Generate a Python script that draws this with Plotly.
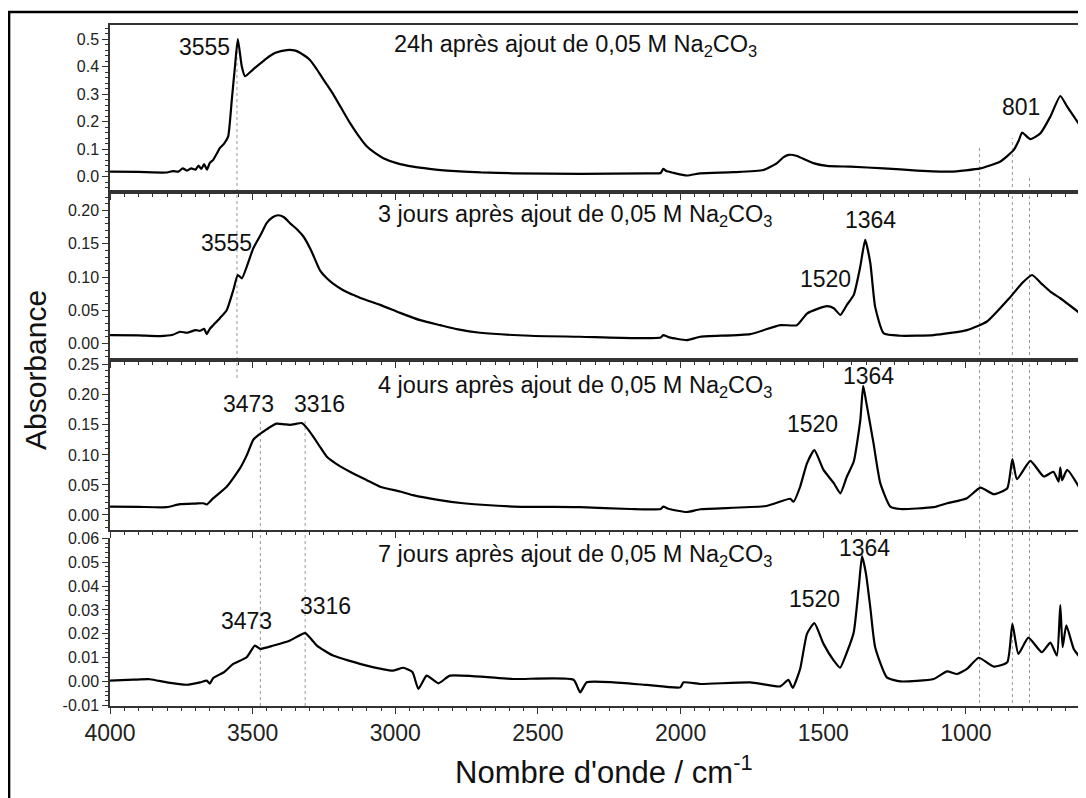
import plotly.graph_objects as go

# ---------------- data ----------------
wn_24h = [4000, 3900, 3850, 3800, 3780, 3760, 3745, 3730, 3715, 3700, 3690, 3680, 3670, 3660, 3650,
          3639, 3625, 3614, 3600, 3586, 3573, 3562, 3552, 3538, 3527, 3498, 3451, 3420, 3381, 3350,
          3334, 3300, 3275, 3250, 3218, 3190, 3159, 3130, 3100, 3070, 3042, 2995, 2938, 2880, 2819,
          2700, 2585, 2352, 2118, 2070, 2061, 2050, 2030, 1978, 1931, 1816, 1710, 1662, 1640, 1621,
          1592, 1560, 1535, 1487, 1405, 1288, 1171, 1054, 949, 879, 832, 815, 803, 774, 739,
          704, 669, 645, 599]
abs_24h = [0.018, 0.017, 0.015, 0.015, 0.020, 0.018, 0.030, 0.022, 0.030, 0.025, 0.040, 0.028, 0.045, 0.025, 0.050,
           0.060, 0.085, 0.105, 0.120, 0.145, 0.280, 0.400, 0.500, 0.400, 0.365, 0.390, 0.430, 0.450, 0.460, 0.458,
           0.450, 0.425, 0.390, 0.350, 0.300, 0.250, 0.195, 0.150, 0.110, 0.085, 0.067, 0.049, 0.036, 0.028, 0.022,
           0.015, 0.012, 0.010, 0.012, 0.013, 0.028, 0.020, 0.015, 0.004, 0.012, 0.016, 0.024, 0.049, 0.070, 0.079,
           0.075, 0.060, 0.049, 0.039, 0.036, 0.030, 0.022, 0.018, 0.030, 0.055, 0.097, 0.130, 0.160, 0.136, 0.157,
           0.218, 0.293, 0.254, 0.184]

wn_3j = [4000, 3900, 3825, 3780, 3755, 3730, 3700, 3684, 3670, 3661, 3650, 3638, 3615, 3591, 3568,
         3552, 3538, 3498, 3470, 3451, 3430, 3410, 3390, 3369, 3345, 3322, 3295, 3264, 3240, 3218,
         3190, 3159, 3130, 3100, 3053, 2983, 2913, 2843, 2780, 2703, 2527, 2352, 2165, 2070, 2061,
         2040, 1978, 1931, 1756, 1651, 1592, 1557, 1520, 1487, 1463, 1440, 1417, 1393, 1370, 1353,
         1335, 1318, 1288, 1230, 1113, 996, 926, 844, 800, 768, 735, 704, 669, 599]
abs_3j = [0.0125, 0.012, 0.011, 0.013, 0.0175, 0.016, 0.020, 0.019, 0.022, 0.014, 0.022, 0.0275, 0.038, 0.050, 0.080,
          0.103, 0.098, 0.143, 0.165, 0.181, 0.190, 0.193, 0.190, 0.181, 0.172, 0.161, 0.140, 0.110, 0.098, 0.090,
          0.082, 0.075, 0.070, 0.065, 0.058, 0.046, 0.035, 0.0275, 0.021, 0.016, 0.0115, 0.010, 0.008, 0.009, 0.0125,
          0.009, 0.005, 0.010, 0.014, 0.0275, 0.0275, 0.045, 0.052, 0.056, 0.053, 0.043, 0.058, 0.073, 0.116, 0.156,
          0.121, 0.055, 0.015, 0.0115, 0.0125, 0.020, 0.033, 0.070, 0.092, 0.103, 0.090, 0.078, 0.068, 0.045]

wn_4j = [4000, 3900, 3801, 3755, 3700, 3673, 3661, 3638, 3591, 3544, 3520, 3498, 3480, 3462, 3440,
         3416, 3390, 3369, 3345, 3328, 3310, 3287, 3262, 3240, 3200, 3159, 3100, 3053, 2983, 2938,
         2850, 2762, 2587, 2352, 2177, 2070, 2061, 2040, 1978, 1931, 1699, 1616, 1604, 1581, 1557,
         1531, 1499, 1463, 1440, 1417, 1393, 1370, 1360, 1350, 1324, 1300, 1265, 1230, 1113, 1066,
         996, 949, 902, 855, 837, 821, 774, 727, 693, 675, 669, 663, 645, 599]
abs_4j = [0.014, 0.0135, 0.013, 0.018, 0.019, 0.0195, 0.0175, 0.028, 0.047, 0.078, 0.100, 0.125, 0.133, 0.139, 0.146,
          0.152, 0.151, 0.150, 0.152, 0.153, 0.145, 0.130, 0.112, 0.097, 0.083, 0.072, 0.058, 0.047, 0.039, 0.033,
          0.025, 0.0195, 0.014, 0.013, 0.010, 0.010, 0.014, 0.010, 0.005, 0.0095, 0.015, 0.027, 0.022, 0.047, 0.086,
          0.108, 0.075, 0.053, 0.036, 0.064, 0.089, 0.158, 0.215, 0.190, 0.120, 0.053, 0.014, 0.010, 0.013, 0.0195,
          0.028, 0.0455, 0.0345, 0.0445, 0.093, 0.0595, 0.090, 0.064, 0.072, 0.0555, 0.079, 0.058, 0.075, 0.043]

wn_7j = [4000, 3918, 3860, 3801, 3731, 3684, 3661, 3650, 3638, 3600, 3568, 3521, 3492, 3474, 3427,
         3369, 3316, 3275, 3218, 3100, 3007, 2972, 2940, 2919, 2890, 2849, 2808, 2587, 2375, 2352,
         2329, 2235, 2118, 2001, 1990, 1931, 1756, 1651, 1622, 1607, 1581, 1557, 1531, 1499, 1463,
         1441, 1417, 1393, 1375, 1364, 1350, 1335, 1318, 1277, 1230, 1113, 1066, 1031, 996, 955,
         902, 855, 837, 816, 781, 734, 704, 681, 669, 661, 648, 622, 599]
abs_7j = [0.0004, 0.0008, 0.0010, -0.0003, -0.0013, -0.0003, 0.0004, -0.0008, 0.0015, 0.0040, 0.0074, 0.0102, 0.0151, 0.0137, 0.0151,
          0.0172, 0.0203, 0.0151, 0.0109, 0.0067, 0.0046, 0.0058, 0.0040, -0.0030, 0.0025, -0.0007, 0.0025, 0.0011, 0.0008, -0.0045,
          -0.0003, -0.0003, -0.0014, -0.0024, -0.0003, -0.0010, -0.0003, -0.0020, 0.0007, -0.0026, 0.0053, 0.0200, 0.0245, 0.0158, 0.0088,
          0.0058, 0.0123, 0.0207, 0.0400, 0.0525, 0.0450, 0.0310, 0.0144, 0.0018, 0.0001, 0.0011, 0.0043, 0.0032, 0.0053, 0.0100,
          0.0063, 0.0081, 0.0242, 0.0116, 0.0184, 0.0123, 0.0163, 0.0109, 0.0320, 0.0144, 0.0235, 0.0137, 0.0100]

panel_titles = ["24h après ajout de 0,05 M Na<sub>2</sub>CO<sub>3</sub>",
                "3 jours après ajout de 0,05 M Na<sub>2</sub>CO<sub>3</sub>",
                "4 jours après ajout de 0,05 M Na<sub>2</sub>CO<sub>3</sub>",
                "7 jours après ajout de 0,05 M Na<sub>2</sub>CO<sub>3</sub>"]

# peak labels: (panel, text, label-centre wavenumber, label y in px of the reference)
peak_labels = [(1, "3555", 3670, 47), (1, "801", 806, 107),
               (2, "3555", 3590, 243), (2, "1520", 1493, 279), (2, "1364", 1335, 220),
               (3, "3473", 3516, 404), (3, "3316", 3264, 404), (3, "1520", 1539, 424), (3, "1364", 1342, 376),
               (4, "3473", 3520, 621), (4, "3316", 3243, 606), (4, "1520", 1532, 599), (4, "1364", 1356, 548)]

# dotted reference lines: (wavenumber, top px, bottom px)
ref_lines = [(3555, 43, 378), (3473, 418, 706), (3316, 418, 706),
             (952, 147, 703), (837, 138, 703), (777, 177, 703)]

x_ticks = [4000, 3500, 3000, 2500, 2000, 1500, 1000]

# ---------------- layout geometry ----------------
OFF = 8                      # page body margin of the html page
W, H = 1086 - OFF, 798 - OFF
def px(p):
    return (p - OFF) / W
def py(p):
    return 1 - (p - OFF) / H

panels = [  # (top px, bottom px, yrange, dtick, minor, fmt)
    (25, 192, [-0.056, 0.551], 0.1, 0.02, ".1f"),
    (192, 360, [-0.025, 0.228], 0.05, 0.01, ".2f"),
    (360, 530, [-0.025, 0.258], 0.05, 0.01, ".2f"),
    (538, 706, [-0.0102, 0.0601], 0.01, 0.002, ".2f"),
]
series = [(wn_24h, abs_24h), (wn_3j, abs_3j), (wn_4j, abs_4j), (wn_7j, abs_7j)]

fig = go.Figure()
FONT = "Liberation Sans, Arial, sans-serif"
AXC = "#333333"
layout = dict(width=W, height=H, margin=dict(l=0, r=0, t=0, b=0, autoexpand=False),
              template="none",
              paper_bgcolor="white", plot_bgcolor="white", showlegend=False,
              font=dict(family=FONT, color="#222222"))

xdom = [px(110), px(1080)]
for i, ((top, bot, yr, dt, mn, fmt), (wx, wy)) in enumerate(zip(panels, series), start=1):
    sfx = "" if i == 1 else str(i)
    fig.add_trace(go.Scatter(x=wx, y=wy, mode="lines", xaxis="x" + sfx, yaxis="y" + sfx,
                             line=dict(color="black", width=2.2, shape="spline", smoothing=0.5),
                             hoverinfo="skip"))
    last = (i == 4)
    xa = dict(domain=xdom, range=[4000, 600], anchor="y" + sfx, showline=True, linecolor=AXC,
              linewidth=1.5, mirror=(i != 4), ticks="outside", ticklen=6, tickcolor=AXC,
              tickmode="array", tickvals=x_ticks, showticklabels=last,
              tickfont=dict(size=23, family=FONT, color="#222"),
              minor=dict(dtick=50, tick0=0, ticklen=3, tickcolor=AXC, ticks="outside"),
              showgrid=False, zeroline=False, automargin=False)
    if i != 1:
        xa["matches"] = "x"
    yvals = []
    k = -5
    while True:
        val = round(k * dt, 6)
        if val > yr[1]:
            break
        if val >= yr[0] - 1e-9:
            yvals.append(val)
        k += 1
    ytext = [format(val, fmt).replace("\u2212", "-") for val in yvals]
    ya = dict(domain=[py(bot), py(top)], range=yr, anchor="x" + sfx, showline=True, linecolor=AXC,
              linewidth=1.5, mirror=True, ticks="outside", ticklen=6, tickcolor=AXC,
              tickmode="array", tickvals=yvals, ticktext=ytext,
              tickfont=dict(size=16, family=FONT, color="#222"),
              minor=dict(dtick=mn, tick0=0, ticklen=3, tickcolor=AXC, ticks="outside"),
              showgrid=False, zeroline=False, automargin=False)
    layout["xaxis" + sfx] = xa
    layout["yaxis" + sfx] = ya

shapes = []
for wnv, ptop, pbot in ref_lines:
    shapes.append(dict(type="line", xref="x", yref="paper", x0=wnv, x1=wnv, y0=py(pbot), y1=py(ptop),
                       line=dict(color="#999999", width=1, dash="dot"), layer="below"))
# outer frame
shapes.append(dict(type="rect", xref="paper", yref="paper", x0=px(8) + 0.001, x1=1.02, y0=-0.02, y1=py(12),
                   line=dict(color="black", width=2.5), fillcolor="rgba(0,0,0,0)"))
layout["shapes"] = shapes

ann = []
title_y = [45, 215, 386, 555]
for t, yp in zip(panel_titles, title_y):
    ann.append(dict(text=t, xref="paper", yref="paper", x=px(575), y=py(yp), showarrow=False,
                    xanchor="center", yanchor="middle", font=dict(size=23.5, family=FONT, color="#111")))
for pnl, txt, xw, yp in peak_labels:
    ann.append(dict(text=txt, xref="x", yref="paper", x=xw, y=py(yp), showarrow=False,
                    xanchor="center", yanchor="middle", font=dict(size=23, family=FONT, color="#111")))
ann.append(dict(text="Absorbance", xref="paper", yref="paper", x=px(35), y=py(370), textangle=-90,
                showarrow=False, xanchor="center", yanchor="middle", font=dict(size=30, family=FONT, color="#111")))
ann.append(dict(text="Nombre d'onde / cm<sup>-1</sup>", xref="paper", yref="paper", x=px(603), y=py(770),
                showarrow=False, xanchor="center", yanchor="middle", font=dict(size=31, family=FONT, color="#111")))
layout["annotations"] = ann

fig.update_layout(**layout)
fig.write_html("out.html")
